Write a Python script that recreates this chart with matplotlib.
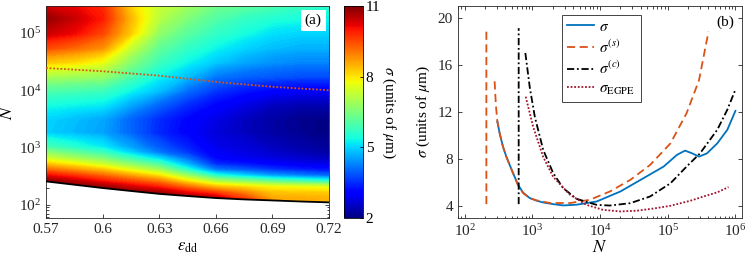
import numpy as np
import matplotlib.pyplot as plt
from matplotlib import cm, colors
from matplotlib.patches import Polygon

plt.rcParams['font.family'] = ['Liberation Serif', 'DejaVu Serif']
plt.rcParams['mathtext.fontset'] = 'stix'
plt.rcParams['font.size'] = 11

# ---- panel (a): sigma(eps_dd, N) map ----
eps_grid = [0.57, 0.585, 0.60, 0.615, 0.63, 0.645, 0.66, 0.675, 0.69, 0.705, 0.72]
logN_rows = [1.7, 2.0, 2.1, 2.2, 2.3, 2.4, 2.5, 2.6, 2.7, 2.8, 2.9, 3.0, 3.25,
             3.5, 3.75, 4.0, 4.25, 4.5, 4.75, 5.0, 5.25, 5.5]
sigma_map = [
    [11.0, 11.0, 11.0, 11.0, 11.0, 11.0, 11.0, 9.9, 8.7, 8.6, 8.5],
    [11.0, 11.0, 11.0, 11.0, 11.0, 11.0, 11.0, 9.85, 8.7, 8.6, 8.5],
    [11.0, 11.0, 11.0, 11.0, 11.0, 10.8, 10.6, 9.6, 8.6, 8.55, 8.5],
    [11.0, 11.0, 11.0, 10.85, 10.7, 10.15, 9.6, 8.95, 8.3, 8.25, 8.2],
    [11.0, 11.0, 10.8, 10.35, 9.9, 9.15, 8.4, 8.1, 7.8, 7.7, 7.6],
    [10.9, 10.5, 10.0, 9.5, 9.0, 8.0, 7.05, 6.6, 6.2, 5.9, 5.6],
    [10.1, 9.7, 9.2, 8.6, 8.0, 6.8, 5.55, 5.0, 4.5, 4.25, 4.0],
    [9.2, 8.75, 8.3, 7.6, 6.9, 5.55, 4.2, 3.9, 3.6, 3.4, 3.25],
    [8.3, 7.85, 7.35, 6.65, 5.95, 4.7, 3.5, 3.3, 3.05, 2.9, 2.8],
    [7.4, 6.95, 6.5, 5.8, 5.05, 4.1, 3.1, 2.9, 2.75, 2.6, 2.5],
    [6.7, 6.25, 5.8, 5.0, 4.2, 3.6, 2.95, 2.8, 2.6, 2.45, 2.3],
    [5.9, 5.55, 5.2, 4.55, 3.9, 3.4, 2.85, 2.7, 2.5, 2.35, 2.2],
    [4.95, 4.75, 4.55, 4.0, 3.45, 3.05, 2.7, 2.5, 2.3, 2.15, 2.0],
    [5.0, 4.8, 4.6, 4.0, 3.5, 3.1, 2.8, 2.5, 2.3, 2.1, 2.05],
    [5.4, 5.3, 5.2, 4.6, 4.0, 3.5, 3.1, 2.8, 2.5, 2.4, 2.4],
    [6.0, 5.9, 5.8, 5.3, 4.8, 4.1, 3.6, 3.3, 3.1, 3.0, 3.0],
    [7.0, 6.9, 6.8, 6.0, 5.3, 4.8, 4.2, 4.0, 3.9, 3.8, 3.8],
    [8.3, 8.1, 7.7, 6.6, 5.8, 5.3, 4.9, 4.6, 4.4, 4.3, 4.3],
    [9.5, 9.2, 8.8, 7.3, 6.2, 5.7, 5.3, 5.0, 4.8, 4.7, 4.7],
    [10.4, 10.1, 9.5, 8.2, 6.7, 6.1, 5.7, 5.4, 5.1, 5.0, 5.0],
    [10.8, 10.4, 9.9, 8.4, 7.1, 6.5, 6.0, 5.7, 5.5, 5.4, 5.3],
    [10.2, 10.1, 9.8, 8.1, 7.3, 6.9, 6.4, 6.2, 6.0, 5.8, 5.6],
]
# existence threshold (black line) and dotted crossover line
eps_line = [0.57, 0.585, 0.60, 0.615, 0.63, 0.645, 0.66, 0.675, 0.69, 0.705, 0.72]
N_crit = [256, 224, 196, 174, 155, 142, 131, 124, 119, 114, 110]
eps_dot = [0.57, 0.60, 0.63, 0.66, 0.69, 0.72]
N_dot = [2.45e4, 2.15e4, 1.8e4, 1.4e4, 1.15e4, 1.0e4]

eps_ticks = [0.57, 0.6, 0.63, 0.66, 0.69, 0.72]
eps_labels = ['0.57', '0.6', '0.63', '0.66', '0.69', '0.72']
cbar_ticks = [2, 5, 8, 11]

# ---- panel (b): widths vs N ----
N_sig = [305, 330, 369, 414, 464, 520, 617, 731, 918, 1150, 1450, 2030, 2860, 4490,
         8900, 2.0e4, 4.4e4, 8.7e4, 1.37e5, 1.8e5, 2.3e5, 2.9e5, 3.8e5, 5.4e5, 7.6e5, 1.0e6]
sig = [11.2, 10.2, 9.07, 8.22, 7.52, 6.82, 5.83, 5.18, 4.71, 4.5, 4.34, 4.2, 4.09, 4.15,
       4.42, 5.27, 6.4, 7.38, 8.37, 8.73, 8.5, 8.22, 8.5, 9.35, 10.5, 12.1]

N_sig_s = [210, 210, np.nan, 278, 290, 305, 330, 369, 414, 464, 520, 617, 731, 918,
           1150, 1800, 3600, 7100, 1.4e4, 2.8e4, 5.5e4, 1.1e5, 1.9e5, 2.9e5, 4.0e5]
sig_s = [4.2, 19.1, np.nan, 14.6, 12.6, 11.2, 10.2, 9.07, 8.22, 7.52, 6.82, 5.8, 5.13, 4.72,
         4.52, 4.3, 4.29, 4.57, 5.27, 6.25, 7.52, 9.35, 11.9, 14.7, 18.8]

N_sig_c = [630, 630, np.nan, 790, 918, 1090, 1450, 2040, 2860, 4500, 8900, 1.4e4,
           2.8e4, 5.5e4, 1.1e5, 1.9e5, 3.0e5, 5.4e5, 7.6e5, 1.0e6]
sig_c = [4.2, 19.1, np.nan, 17.0, 14.1, 11.6, 8.79, 6.82, 5.55, 4.65, 4.14, 4.08,
         4.28, 4.85, 5.97, 7.38, 8.5, 10.5, 12.2, 13.9]

N_egpe = [800, 1030, 1450, 2040, 3600, 6300, 1.1e4, 2.0e4, 3.5e4, 6.2e4,
          1.1e5, 2.2e5, 3.4e5, 5.4e5, 7.9e5]
sig_egpe = [13.3, 10.75, 8.2, 6.5, 5.0, 4.14, 3.72, 3.58, 3.64, 3.83,
            4.06, 4.5, 4.85, 5.2, 5.64]

fig = plt.figure(figsize=(7.47, 2.61), dpi=100)
ax1 = fig.add_axes([0.0616, 0.1636, 0.3788, 0.8145])
cax = fig.add_axes([0.4605, 0.1636, 0.0254, 0.8145])
ax2 = fig.add_axes([0.6131, 0.1636, 0.3802, 0.8145])

norm = colors.Normalize(vmin=2, vmax=11)
N_rows = 10.0 ** np.array(logN_rows)
cs = ax1.contourf(eps_grid, N_rows, np.array(sigma_map), levels=np.linspace(2, 11, 121),
                  cmap='jet', norm=norm, extend='both')
cs.set_edgecolor('face')
# no data below the existence threshold
region = Polygon(list(zip(eps_line, N_crit)) + [(eps_line[-1], 1e7), (eps_line[0], 1e7)],
                 closed=True, transform=ax1.transData, facecolor='none', edgecolor='none')
cs.set_clip_path(region)
ax1.set_axisbelow(True)
ax1.plot(eps_line, N_crit, color='black', lw=1.3, zorder=3)
ax1.plot(eps_dot, N_dot, color='#D95319', lw=1.3, ls=(0, (1, 1)), zorder=3)
ax1.set_yscale('log')
ax1.set_xlim(0.57, 0.72)
ax1.set_ylim(58, 3e5)
ax1.set_xticks(eps_ticks)
ax1.set_xticklabels(eps_labels)
ax1.set_xlabel(r'$\varepsilon_{\rm dd}$', fontsize=12, labelpad=2)
ax1.set_ylabel(r'$N$', fontsize=13, labelpad=2)
ax1.text(0.944, 0.93, '(a)', transform=ax1.transAxes, ha='center', va='center',
         fontsize=11, zorder=5, bbox=dict(facecolor='white', edgecolor='none', pad=3))

sm = cm.ScalarMappable(norm=norm, cmap='jet')
cb = fig.colorbar(sm, cax=cax, ticks=cbar_ticks)
cb.ax.tick_params(direction='in', length=2.5, width=0.6, pad=2, labelsize=11)
cb.outline.set_linewidth(0.6)
cb.set_label(r'$\sigma$ (units of $\mu$m)', rotation=270, labelpad=12, fontsize=11)

ax2.plot(N_sig, sig, color='#0072BD', lw=1.3, label=r'$\sigma$')
ax2.plot(N_sig_s, sig_s, color='#D95319', lw=1.3, ls=(0, (4.5, 2.5)), label=r'$\sigma^{(s)}$')
ax2.plot(N_sig_c, sig_c, color='black', lw=1.3, ls=(0, (4, 1.5, 1, 1.5)), label=r'$\sigma^{(c)}$')
ax2.plot(N_egpe, sig_egpe, color='#A2142F', lw=1.3, ls=(0, (1, 1)), label=r'$\sigma_{\rm EGPE}$')
ax2.set_xscale('log')
ax2.set_xlim(80, 1.25e6)
ax2.set_ylim(3, 21)
ax2.set_yticks([4, 8, 12, 16, 20])
ax2.set_xlabel(r'$N$', fontsize=13, labelpad=0)
ax2.set_ylabel(r'$\sigma$ (units of $\mu$m)', fontsize=11, labelpad=4)
ax2.text(0.94, 0.923, '(b)', transform=ax2.transAxes, ha='center', va='center', fontsize=11)
leg = ax2.legend(loc='upper left', bbox_to_anchor=(0.365, 0.958), fontsize=11,
                 handlelength=1.8, labelspacing=0.3, borderpad=0.35, handletextpad=0.3,
                 fancybox=False, framealpha=1, edgecolor='#262626', borderaxespad=0)
leg.get_frame().set_linewidth(0.6)

for ax in (ax1, ax2):
    ax.tick_params(which='both', direction='in', top=True, right=True, width=0.6,
                   labelsize=11, colors='#262626')
    ax.tick_params(which='major', length=3)
    ax.tick_params(which='minor', length=1.8)
    for s in ax.spines.values():
        s.set_linewidth(0.6)
        s.set_color('#262626')

fig.savefig('out.png', dpi=100)
